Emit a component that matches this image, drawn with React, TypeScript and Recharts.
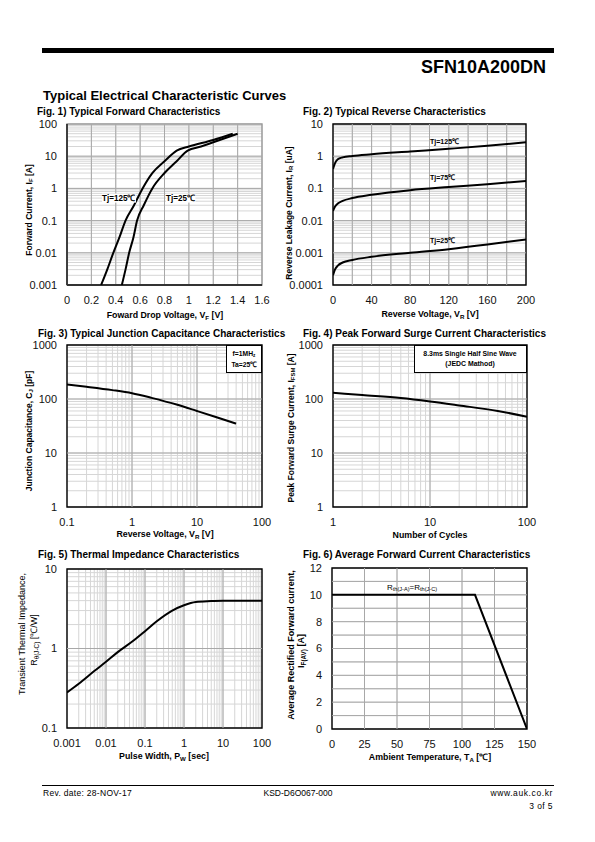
import React from 'react';
import { LineChart, Line, XAxis, YAxis, CartesianGrid, ReferenceLine, ReferenceArea } from 'recharts';

// Fig. 1) forward characteristics
const fig1Tj125V = [0.28, 0.33, 0.38, 0.43, 0.48, 0.55, 0.62, 0.7, 0.8, 0.9, 1.0, 1.2, 1.36];
const fig1Tj125I = [0.001, 0.003, 0.01, 0.03, 0.1, 0.3, 1, 3, 7, 15, 20, 32, 50];
const fig1Tj25V = [0.45, 0.48, 0.51, 0.545, 0.575, 0.63, 0.7, 0.8, 0.9, 0.99, 1.1, 1.2, 1.4];
const fig1Tj25I = [0.001, 0.003, 0.01, 0.03, 0.1, 0.3, 1, 3, 7, 15, 20, 27, 50];
const fig1XTicks = [0, 0.2, 0.4, 0.6, 0.8, 1.0, 1.2, 1.4, 1.6];
const fig1XLabels = ['0', '0.2', '0.4', '0.6', '0.8', '1', '1.2', '1.4', '1.6'];
const fig1YDecades = [0.001, 0.01, 0.1, 1, 10, 100];
const fig1YLabels = ['0.001', '0.01', '0.1', '1', '10', '100'];

// Fig. 2) reverse characteristics
const fig2V = [0, 2, 5, 10, 20, 40, 80, 120, 160, 200];
const fig2Tj125 = [0.4, 0.6, 0.8, 0.92, 1.02, 1.15, 1.4, 1.7, 2.1, 2.7];
const fig2Tj75 = [0.02, 0.027, 0.034, 0.041, 0.05, 0.063, 0.088, 0.11, 0.135, 0.17];
const fig2Tj25 = [0.0002, 0.0003, 0.0004, 0.0005, 0.0006, 0.00075, 0.001, 0.0013, 0.0018, 0.0026];
const fig2XGrid = [0, 20, 40, 60, 80, 100, 120, 140, 160, 180, 200];
const fig2XLabelAt = [0, 40, 80, 120, 160, 200];
const fig2XLabels = ['0', '40', '80', '120', '160', '200'];
const fig2YDecades = [0.0001, 0.001, 0.01, 0.1, 1, 10];
const fig2YLabels = ['0.0001', '0.001', '0.01', '0.1', '1', '10'];

// Fig. 3) junction capacitance
const fig3V = [0.1, 0.2, 0.5, 1, 2, 5, 10, 20, 40];
const fig3C = [185, 168, 146, 128, 105, 78, 60, 46, 35];
const fig3XDecades = [0.1, 1, 10, 100];
const fig3XLabels = ['0.1', '1', '10', '100'];
const fig3YDecades = [1, 10, 100, 1000];
const fig3YLabels = ['1', '10', '100', '1000'];

// Fig. 4) surge current
const fig4N = [1, 2, 5, 10, 20, 50, 100];
const fig4I = [130, 118, 104, 90, 76, 60, 47];
const fig4XDecades = [1, 10, 100];
const fig4XLabels = ['1', '10', '100'];

// Fig. 5) thermal impedance
const fig5T = [0.001, 0.002, 0.005, 0.01, 0.02, 0.05, 0.1, 0.2, 0.5, 1, 2, 5, 10, 20, 50, 100];
const fig5Z = [0.28, 0.36, 0.52, 0.68, 0.9, 1.25, 1.65, 2.2, 3.0, 3.5, 3.85, 3.95, 4.0, 4.0, 4.0, 4.0];
const fig5XDecades = [0.001, 0.01, 0.1, 1, 10, 100];
const fig5XLabels = ['0.001', '0.01', '0.1', '1', '10', '100'];
const fig5YDecades = [0.1, 1, 10];
const fig5YLabels = ['0.1', '1', '10'];

// Fig. 6) derating
const fig6T = [0, 110, 150];
const fig6I = [10, 10, 0];
const fig6XTicks = [0, 25, 50, 75, 100, 125, 150];
const fig6XLabels = ['0', '25', '50', '75', '100', '125', '150'];
const fig6YGrid = [0, 1, 2, 3, 4, 5, 6, 7, 8, 9, 10, 11, 12];
const fig6YLabelAt = [0, 2, 4, 6, 8, 10, 12];
const fig6YLabels = ['0', '2', '4', '6', '8', '10', '12'];

const MINOR = '#d6d6d6';
const MAJOR = '#a8a8a8';
const SANS = '"Liberation Sans", Arial, sans-serif';

function logGrid(decades: number[]) {
  const out: number[] = [];
  decades.forEach((d, i) => {
    if (i === decades.length - 1) { out.push(d); return; }
    for (let k = 1; k < 10; k++) out.push(+(d * k).toPrecision(6));
  });
  return out;
}

function zip(xs: number[], ys: number[]) {
  return xs.map((x, i) => ({ x, y: ys[i] }));
}

function labeler(at: number[], labels: string[]) {
  return (v: number) => {
    const i = at.findIndex((a) => Math.abs(a - v) <= Math.abs(a) * 1e-6 + 1e-12);
    return i >= 0 ? labels[i] : '';
  };
}

interface PlotProps {
  left: number; top: number; w: number; h: number;
  xLog?: boolean; yLog?: boolean;
  xDomain: [number, number]; yDomain: [number, number];
  xGrid: number[]; yGrid: number[];
  xDark: number[]; yDark: number[];
  xLabelAt: number[]; xLabels: string[];
  yLabelAt: number[]; yLabels: string[];
  series: { x: number; y: number }[][];
  linear?: boolean;
  frame?: string;
}

const YW = 60, MT = 9, MR = 16, XH = 30;

function Plot(p: PlotProps) {
  const tick = { fill: '#111', fontSize: 11, fontFamily: SANS };
  return (
    <div style={{ position: 'absolute', left: p.left - YW, top: p.top - MT }}>
      <LineChart width={p.w + YW + MR} height={p.h + MT + XH} margin={{ top: MT, right: MR, left: 0, bottom: 0 }}>
        <CartesianGrid stroke={MINOR} strokeWidth={1} />
        <XAxis
          type="number" dataKey="x" scale={p.xLog ? 'log' : 'linear'} domain={p.xDomain} ticks={p.xGrid}
          interval={0} allowDataOverflow tickLine={false} axisLine={false} tickSize={0} tickMargin={11}
          height={XH} tick={tick} tickFormatter={labeler(p.xLabelAt, p.xLabels)}
        />
        <YAxis
          type="number" dataKey="y" scale={p.yLog ? 'log' : 'linear'} domain={p.yDomain} ticks={p.yGrid}
          interval={0} allowDataOverflow tickLine={false} axisLine={false} tickSize={0} tickMargin={10}
          width={YW} tick={tick} tickFormatter={labeler(p.yLabelAt, p.yLabels)}
        />
        {p.xDark.map((v) => (
          <ReferenceLine key={'x' + v} x={v} stroke={MAJOR} strokeWidth={1} />
        ))}
        {p.yDark.map((v) => (
          <ReferenceLine key={'y' + v} y={v} stroke={MAJOR} strokeWidth={1} />
        ))}
        <ReferenceArea
          x1={p.xDomain[0]} x2={p.xDomain[1]} y1={p.yDomain[0]} y2={p.yDomain[1]}
          fill="none" fillOpacity={0} stroke={p.frame || '#000'} strokeWidth={1.4} ifOverflow="visible"
        />
        {p.frame && (
          <ReferenceLine x={p.xDomain[0]} stroke="#333" strokeWidth={1.8} />
        )}
        {p.frame && (
          <ReferenceLine y={p.yDomain[0]} stroke="#333" strokeWidth={1.8} />
        )}
        {p.series.map((s, i) => (
          <Line
            key={i} data={s} dataKey="y" type={p.linear ? 'linear' : 'monotone'}
            stroke="#000" strokeWidth={2} dot={false} isAnimationActive={false}
          />
        ))}
      </LineChart>
    </div>
  );
}

function T({ x, y, children, size = 8, weight = 700, anchor = 'start', rotate = false, bg, spacing, sx }: any) {
  let tr = 'translateY(-50%)';
  if (anchor === 'middle') tr = 'translate(-50%,-50%)';
  if (anchor === 'end') tr = 'translate(-100%,-50%)';
  if (rotate) tr = 'translate(-50%,-50%) rotate(-90deg)';
  if (sx) tr += ` scaleX(${sx})`;
  return (
    <div
      style={{
        position: 'absolute', left: x, top: y, transform: tr, transformOrigin: anchor === 'start' && !rotate ? '0 0' : undefined,
        whiteSpace: 'nowrap', fontSize: size, fontWeight: weight, fontFamily: SANS, lineHeight: 1, color: '#000',
        background: bg, letterSpacing: spacing,
      }}
    >
      {children}
    </div>
  );
}

const sub = (s: string) => <sub style={{ fontSize: '70%', verticalAlign: '-0.25em' }}>{s}</sub>;

const FIG = { size: 11.5, sx: 0.87 };
const AX = 8.8;

export default function App() {
  return (
    <div style={{ position: 'absolute', left: 0, top: 0, width: 595, height: 842, background: '#fff', overflow: 'hidden' }}>
      {/* header */}
      <div style={{ position: 'absolute', left: 42, top: 48, width: 512, height: 5, background: '#000' }} />
      <T x={546} y={67} size={18} anchor="end">SFN10A200DN</T>
      <T x={43} y={95} size={13}>Typical Electrical Characteristic Curves</T>

      {/* Fig 1 */}
      <T x={37} y={112} {...FIG}>Fig. 1) Typical Forward Characteristics</T>
      <Plot
        left={67} top={124} w={195} h={161} yLog frame="#9a9a9a"
        xDomain={[0, 1.6]} yDomain={[0.001, 100]}
        xGrid={fig1XTicks} yGrid={logGrid(fig1YDecades)}
        xDark={fig1XTicks.slice(1, -1)} yDark={fig1YDecades.slice(1, -1)}
        xLabelAt={fig1XTicks} xLabels={fig1XLabels}
        yLabelAt={fig1YDecades} yLabels={fig1YLabels}
        series={[zip(fig1Tj125V, fig1Tj125I), zip(fig1Tj25V, fig1Tj25I)]}
      />
      <T x={102} y={198} size={8.8} sx={0.92} bg="#fff">Tj=125℃</T>
      <T x={166} y={198} size={8.8} sx={0.92} bg="#fff">Tj=25℃</T>
      <T x={165} y={316} size={AX} anchor="middle">Foward Drop Voltage, V{sub('F')} [V]</T>
      <T x={30} y={210} size={8.5} rotate>Forward Current, I{sub('F')} [A]</T>

      {/* Fig 2 */}
      <T x={303} y={112} {...FIG}>Fig. 2) Typical Reverse Characteristics</T>
      <Plot
        left={333} top={124} w={193} h={161} yLog
        xDomain={[0, 200]} yDomain={[0.0001, 10]}
        xGrid={fig2XGrid} yGrid={logGrid(fig2YDecades)}
        xDark={fig2XGrid.slice(1, -1)} yDark={fig2YDecades.slice(1, -1)}
        xLabelAt={fig2XLabelAt} xLabels={fig2XLabels}
        yLabelAt={fig2YDecades} yLabels={fig2YLabels}
        series={[zip(fig2V, fig2Tj125), zip(fig2V, fig2Tj75), zip(fig2V, fig2Tj25)]}
      />
      <T x={430} y={142} size={7.8} sx={0.9}>Tj=125℃</T>
      <T x={430} y={178} size={7.8} sx={0.9}>Tj=75℃</T>
      <T x={430} y={241} size={7.8} sx={0.9}>Tj=25℃</T>
      <T x={430} y={315} size={AX} anchor="middle">Reverse Voltage, V{sub('R')} [V]</T>
      <T x={290} y={213} size={8.5} rotate>Reverse Leakage Current, I{sub('R')} [uA]</T>

      {/* Fig 3 */}
      <T x={38} y={334} {...FIG}>Fig. 3) Typical Junction Capacitance Characteristics</T>
      <Plot
        left={67} top={345} w={195} h={162} xLog yLog
        xDomain={[0.1, 100]} yDomain={[1, 1000]}
        xGrid={logGrid(fig3XDecades)} yGrid={logGrid(fig3YDecades)}
        xDark={fig3XDecades.slice(1, -1)} yDark={fig3YDecades.slice(1, -1)}
        xLabelAt={fig3XDecades} xLabels={fig3XLabels}
        yLabelAt={fig3YDecades} yLabels={fig3YLabels}
        series={[zip(fig3V, fig3C)]}
      />
      <div style={{ position: 'absolute', left: 226, top: 345, width: 36, height: 28, background: '#fff', border: '1px solid #000', boxSizing: 'border-box' }} />
      <T x={244} y={354} size={7.5} sx={0.9} anchor="middle">f=1MH{sub('z')}</T>
      <T x={244} y={365} size={7.5} sx={0.9} anchor="middle">Ta=25℃</T>
      <T x={165} y={535} size={AX} anchor="middle">Reverse Voltage, V{sub('R')} [V]</T>
      <T x={30} y={431} size={8.5} rotate>Junction Capacitance, C{sub('J')} [pF]</T>

      {/* Fig 4 */}
      <T x={303} y={334} {...FIG}>Fig. 4) Peak Forward Surge Current Characteristics</T>
      <Plot
        left={333} top={345} w={194} h={162} xLog yLog
        xDomain={[1, 100]} yDomain={[1, 1000]}
        xGrid={logGrid(fig4XDecades)} yGrid={logGrid(fig3YDecades)}
        xDark={fig4XDecades.slice(1, -1)} yDark={fig3YDecades.slice(1, -1)}
        xLabelAt={fig4XDecades} xLabels={fig4XLabels}
        yLabelAt={fig3YDecades} yLabels={fig3YLabels}
        series={[zip(fig4N, fig4I)]}
      />
      <div style={{ position: 'absolute', left: 414, top: 345, width: 113, height: 28, background: '#fff', border: '1px solid #000', boxSizing: 'border-box' }} />
      <T x={470} y={354} size={7.5} sx={0.92} anchor="middle">8.3ms Single Half Sine Wave</T>
      <T x={470} y={364} size={7.5} sx={0.92} anchor="middle">(JEDC Mathod)</T>
      <T x={430} y={535} size={AX} anchor="middle">Number of Cycles</T>
      <T x={292} y={428} size={8.5} rotate>Peak Forward Surge Current, I{sub('FSM')} [A]</T>

      {/* Fig 5 */}
      <T x={38} y={555} {...FIG}>Fig. 5) Thermal Impedance Characteristics</T>
      <Plot
        left={67} top={569} w={195} h={159} xLog yLog
        xDomain={[0.001, 100]} yDomain={[0.1, 10]}
        xGrid={logGrid(fig5XDecades)} yGrid={logGrid(fig5YDecades)}
        xDark={fig5XDecades.slice(1, -1)} yDark={fig5YDecades.slice(1, -1)}
        xLabelAt={fig5XDecades} xLabels={fig5XLabels}
        yLabelAt={fig5YDecades} yLabels={fig5YLabels}
        series={[zip(fig5T, fig5Z)]}
      />
      <T x={164} y={757} size={AX} anchor="middle">Pulse Width, P{sub('W')} [sec]</T>
      <T x={22} y={634} size={9} weight={400} rotate>Transient Thermal Impedance,</T>
      <T x={35} y={640} size={9} weight={400} rotate>R{sub('θ(J-C)')} [℃/W]</T>

      {/* Fig 6 */}
      <T x={303} y={555} {...FIG}>Fig. 6) Average Forward Current Characteristics</T>
      <Plot
        left={332} top={568} w={195} h={161} linear
        xDomain={[0, 150]} yDomain={[0, 12]}
        xGrid={fig6XTicks} yGrid={fig6YGrid}
        xDark={fig6XTicks.slice(1, -1)} yDark={fig6YGrid.slice(1, -1)}
        xLabelAt={fig6XTicks} xLabels={fig6XLabels}
        yLabelAt={fig6YLabelAt} yLabels={fig6YLabels}
        series={[zip(fig6T, fig6I)]}
      />
      <T x={387} y={588} size={8} weight={400}>R{sub('th(J-A)')}=R{sub('th(J-C)')}</T>
      <T x={430} y={758} size={AX} anchor="middle">Ambient Temperature, T{sub('A')} [℃]</T>
      <T x={291} y={645} size={9} rotate>Average Rectified Forward current,</T>
      <T x={302} y={651} size={9} rotate>I{sub('F(AV)')} [A]</T>

      {/* footer */}
      <div style={{ position: 'absolute', left: 42, top: 785, width: 512, height: 1, background: '#000' }} />
      <T x={43} y={793} size={8.5} weight={400} spacing={0.3}>Rev. date: 28-NOV-17</T>
      <T x={298} y={793} size={8.5} weight={400} anchor="middle">KSD-D6O067-000</T>
      <T x={553} y={793} size={8.5} weight={400} anchor="end" spacing={0.6}>www.auk.co.kr</T>
      <T x={553} y={806} size={8.5} weight={400} anchor="end" spacing={0.4}>3 of 5</T>
    </div>
  );
}
